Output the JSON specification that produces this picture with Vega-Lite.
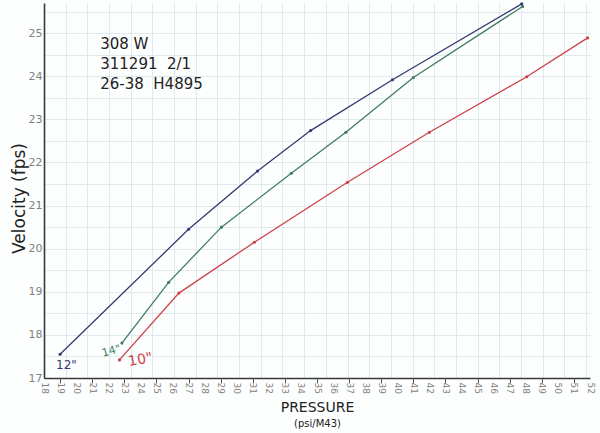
{
  "$schema": "https://vega.github.io/schema/vega-lite/v6.json",
  "width": 546,
  "height": 375,
  "autosize": {"type": "none"},
  "padding": {"left": 44, "top": 3, "right": 10, "bottom": 55},
  "background": "#fdfefe",
  "config": {"view": {"stroke": null}, "font": "DejaVu Sans"},
  "datasets": {
    "curves": [
      {"series": "12\"", "P": 19.0, "V": 17.55},
      {"series": "12\"", "P": 27.0, "V": 20.45},
      {"series": "12\"", "P": 31.3, "V": 21.8},
      {"series": "12\"", "P": 34.6, "V": 22.74},
      {"series": "12\"", "P": 39.7, "V": 23.92},
      {"series": "12\"", "P": 47.75, "V": 25.68},
      {"series": "14\"", "P": 22.85, "V": 17.81},
      {"series": "14\"", "P": 25.76, "V": 19.22},
      {"series": "14\"", "P": 29.05, "V": 20.5},
      {"series": "14\"", "P": 33.4, "V": 21.75},
      {"series": "14\"", "P": 36.8, "V": 22.7},
      {"series": "14\"", "P": 41.0, "V": 23.97},
      {"series": "14\"", "P": 47.8, "V": 25.62},
      {"series": "10\"", "P": 22.7, "V": 17.42},
      {"series": "10\"", "P": 26.4, "V": 18.97},
      {"series": "10\"", "P": 31.1, "V": 20.15},
      {"series": "10\"", "P": 36.9, "V": 21.54},
      {"series": "10\"", "P": 42.0, "V": 22.7},
      {"series": "10\"", "P": 48.06, "V": 23.99},
      {"series": "10\"", "P": 51.85, "V": 24.89}
    ]
  },
  "data": {"name": "curves"},
  "resolve": {"axis": {"x": "independent", "y": "independent"}},
  "layer": [
    {
      "mark": {"type": "line", "strokeWidth": 1.3},
      "encoding": {
        "x": {
          "field": "P", "type": "quantitative",
          "scale": {"domain": [18, 52], "nice": false, "zero": false},
          "axis": {
            "orient": "bottom", "grid": true, "labels": false, "ticks": false, "domain": false, "title": null,
            "gridColor": "#e0e9ed", "gridWidth": 1,
            "values": [18, 19.35, 20.7, 22.05, 23.4, 24.75, 26.1, 27.45, 28.8, 30.15, 31.5, 32.85, 34.2, 35.55, 36.9, 38.25, 39.6, 40.95, 42.3, 43.65, 45, 46.35, 47.7, 49.05, 50.4, 51.75]
          }
        },
        "y": {
          "field": "V", "type": "quantitative",
          "scale": {"domain": [17, 25.7], "nice": false, "zero": false},
          "axis": {
            "orient": "left", "grid": true, "labels": false, "ticks": false, "domain": false, "title": null,
            "gridColor": "#e0e9ed", "gridWidth": 1,
            "values": [17, 17.5, 18, 18.5, 19, 19.5, 20, 20.5, 21, 21.5, 22, 22.5, 23, 23.5, 24, 24.5, 25, 25.5]
          }
        },
        "color": {
          "field": "series", "type": "nominal",
          "scale": {"domain": ["12\"", "14\"", "10\""], "range": ["#363a70", "#3f7d62", "#cc4249"]},
          "legend": null
        }
      }
    },
    {
      "mark": {"type": "point", "filled": true, "size": 10, "opacity": 1},
      "encoding": {
        "x": {
          "field": "P", "type": "quantitative",
          "axis": {
            "orient": "bottom", "grid": false, "ticks": false,
            "values": [18, 19, 20, 21, 22, 23, 24, 25, 26, 27, 28, 29, 30, 31, 32, 33, 34, 35, 36, 37, 38, 39, 40, 41, 42, 43, 44, 45, 46, 47, 48, 49, 50, 51, 52],
            "labelAngle": 90, "labelFontSize": 9, "labelColor": "#808080", "labelPadding": 4,
            "labelOverlap": false, "labelFlush": false,
            "domainColor": "#3a3a3a", "domainWidth": 1.6,
            "title": "PRESSURE", "titleFontSize": 14, "titleFontWeight": "normal", "titleColor": "#222222",
            "titleY": 22, "titleBaseline": "top"
          }
        },
        "y": {
          "field": "V", "type": "quantitative",
          "axis": {
            "orient": "left", "grid": false, "ticks": false,
            "values": [17, 18, 19, 20, 21, 22, 23, 24, 25],
            "labelFontSize": 11, "labelColor": "#808080", "labelPadding": 2,
            "domainColor": "#3a3a3a", "domainWidth": 1.6,
            "title": "Velocity (fps)", "titleFontSize": 17, "titleFontWeight": "normal", "titleColor": "#222222",
            "titleX": -16, "titleY": 195, "titleAngle": -90, "titleBaseline": "bottom"
          }
        },
        "color": {"field": "series", "type": "nominal", "legend": null}
      }
    },
    {
      "mark": {"type": "point", "opacity": 0},
      "encoding": {
        "x": {
          "field": "P", "type": "quantitative",
          "axis": {
            "orient": "bottom", "grid": false, "labels": false, "domain": false,
            "values": [19, 21, 23, 25, 27, 29, 31, 33, 35, 37, 39, 41, 43, 45, 47, 49, 51],
            "ticks": true, "tickSize": 5, "tickColor": "#555555", "tickWidth": 1,
            "title": "(psi/M43)", "titleFontSize": 10, "titleFontWeight": "normal", "titleColor": "#222222",
            "titleY": 40, "titleBaseline": "top"
          }
        },
        "y": {"field": "V", "type": "quantitative", "axis": null}
      }
    },
    {
      "data": {"values": [{}]},
      "mark": {"type": "text", "align": "left", "baseline": "middle", "fontSize": 15, "color": "#222222", "lineBreak": "\n", "lineHeight": 20},
      "encoding": {
        "x": {"datum": 21.5, "type": "quantitative", "axis": null},
        "y": {"datum": 24.76, "type": "quantitative", "axis": null},
        "text": {"value": "308 W\n311291\u00a0\u00a02/1\n26-38\u00a0\u00a0H4895"}
      }
    },
    {
      "data": {"values": [{}]},
      "mark": {"type": "text", "align": "center", "baseline": "middle", "fontSize": 12, "color": "#363a70"},
      "encoding": {
        "x": {"datum": 19.4, "type": "quantitative", "axis": null},
        "y": {"datum": 17.3, "type": "quantitative", "axis": null},
        "text": {"value": "12\""}
      }
    },
    {
      "data": {"values": [{}]},
      "mark": {"type": "text", "align": "center", "baseline": "middle", "fontSize": 11, "color": "#3f7d62", "angle": -15},
      "encoding": {
        "x": {"datum": 22.2, "type": "quantitative", "axis": null},
        "y": {"datum": 17.62, "type": "quantitative", "axis": null},
        "text": {"value": "14\""}
      }
    },
    {
      "data": {"values": [{}]},
      "mark": {"type": "text", "align": "center", "baseline": "middle", "fontSize": 14, "color": "#cc4249", "angle": -10},
      "encoding": {
        "x": {"datum": 24.0, "type": "quantitative", "axis": null},
        "y": {"datum": 17.42, "type": "quantitative", "axis": null},
        "text": {"value": "10\""}
      }
    }
  ]
}
